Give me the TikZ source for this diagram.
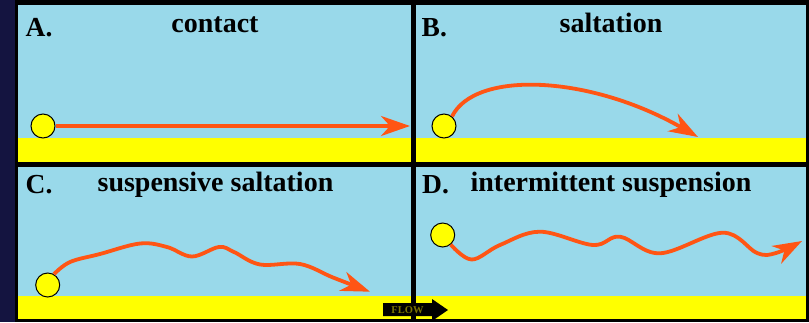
\documentclass[tikz,border=0pt]{standalone}
\usepackage{fontspec}
\setmainfont{Liberation Serif}
\usetikzlibrary{arrows.meta}
\definecolor{sky}{RGB}{153,217,234}
\definecolor{sand}{RGB}{255,255,0}
\definecolor{trail}{RGB}{255,85,20}
\definecolor{navy}{RGB}{20,20,64}
\definecolor{flowtxt}{RGB}{125,118,0}
\begin{document}
\begin{tikzpicture}[x=1pt,y=-1pt,
  ball/.style={circle,draw=black,line width=1pt,fill=sand,minimum size=24pt,inner sep=0pt},
  trailline/.style={draw=trail,line width=3.8pt,line join=round,-{Stealth[length=29pt,width=20pt,inset=9pt]}},
  title/.style={font=\fontsize{28}{30}\selectfont\bfseries,anchor=base,inner sep=0pt},
  tag/.style={font=\fontsize{27.5}{30}\selectfont\bfseries,anchor=base west,inner sep=0pt}]
\useasboundingbox (0,0) rectangle (809,322);
\fill[black] (0,0) rectangle (809,322);
\fill[navy] (0,0) rectangle (15,322);
\foreach \xa/\xb in {18/411,416/806}{
  \fill[sky] (\xa,5) rectangle (\xb,138);
  \fill[sand] (\xa,138) rectangle (\xb,162);
  \fill[sky] (\xa,167) rectangle (\xb,296);
  \fill[sand] (\xa,296) rectangle (\xb,319);
}
% labels
\node[tag] (tA) at (25.5,36.5) {A.};
\node[title] (hA) at (215,32.3) {contact};
\node[tag] (tB) at (421.5,36.2) {B.};
\node[title] (hB) at (611,32.3) {saltation};
\node[tag] (tC) at (25.5,193.5) {C.};
\node[title] (hC) at (215.5,191.7) {suspensive saltation};
\node[tag] (tD) at (422,193.8) {D.};
\node[title] (hD) at (611,191.7) {intermittent suspension};
% balls
\node[ball] (ballA) at (43,126) {};
\node[ball] (ballB) at (444,126) {};
\node[ball] (ballC) at (47.7,285) {};
\node[ball] (ballD) at (442.7,235) {};
% ends
\coordinate (endA) at (410,126);
\coordinate (endB) at (698,137);
\coordinate (endC) at (370,291.7);
\coordinate (endD) at (802,241);
% trails
\draw[trailline] (ballA) -- (endA);
\draw[trailline] (ballB.50) .. controls (475,70) and (590,75) .. (endB);
\draw[trailline] plot[smooth,tension=0.6] coordinates {(ballC.60) (70,262) (100,254) (140,243.5) (167,247) (192,256.5) (219,247) (234,252) (260,264.5) (300,264) (333,277.5) (endC)};
\draw[trailline] plot[smooth,tension=0.6] coordinates {(ballD.-50) (471.7,259.5) (500,245) (540,231.7) (593,245) (620,236.7) (660,253.3) (723,232.7) (757,253) (776,253) (endD)};
% flow arrow
\fill[black] (383,303) -- (432,303) -- (432,299) -- (448,310) -- (432,321) -- (432,316) -- (383,316) -- cycle;
\node[font=\fontsize{10.5}{11}\selectfont\bfseries,text=flowtxt,inner sep=0pt] (flow) at (407.5,309.7) {FLOW};
\end{tikzpicture}
\end{document}
